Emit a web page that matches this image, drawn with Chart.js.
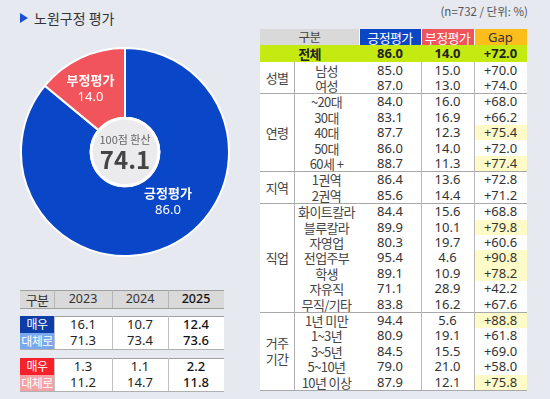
<!DOCTYPE html>
<html><head><meta charset="utf-8">
<script src="https://cdn.jsdelivr.net/npm/chart.js@4.4.1/dist/chart.umd.min.js"></script>
<style>
html,body{margin:0;padding:0;}
body{width:550px;height:399px;background:#e6e9f0;position:relative;overflow:hidden;font-family:"Noto Sans","Noto Sans CJK KR",sans-serif;color:#333;}
.abs{position:absolute;box-sizing:border-box;}
.c{position:absolute;box-sizing:border-box;display:flex;align-items:center;justify-content:center;white-space:nowrap;font-size:12.5px;line-height:1;}
.k{font-family:"Noto Sans CJK KR",sans-serif;font-size:12.5px;letter-spacing:-0.6px;}
#title{left:20px;top:8px;font-size:14px;color:#333;display:flex;align-items:center;font-family:"Noto Sans CJK KR";}
#title .tri{width:0;height:0;border-top:5px solid transparent;border-bottom:5px solid transparent;border-left:8px solid #1a4fd0;margin-right:6px;}
#note{right:22px;top:3px;font-size:11.5px;color:#555;font-family:"Noto Sans CJK KR";}
</style></head>
<body>
<div id="title" class="abs"><span class="tri"></span>노원구정 평가</div>
<div id="note" class="abs">(n=732 / 단위: %)</div>
<div class="abs" style="left:20px;top:47px;width:210px;height:210px;"><canvas id="donut" width="210" height="210"></canvas></div>
<div id="rt"></div>
<div id="lt"></div>
<script>
// ---------- data ----------
const donutLabels = ['긍정평가','부정평가'];
const donutValues = [86.0, 14.0];
const donutColors = ['#0a46c8','#f2545b'];
const centerTitle = '100점 환산';
const centerValue = '74.1';

const headerCols = ['구분','긍정평가','부정평가','Gap'];
const totalRow = ['전체','86.0','14.0','+72.0'];
const groupNames = ['성별','연령','지역','직업','거주\n기간'];
const groupSizes = [2,5,2,7,5];
const subLabels = ['남성','여성','~20대','30대','40대','50대','60세 +','1권역','2권역','화이트칼라','블루칼라','자영업','전업주부','학생','자유직','무직/기타','1년 미만','1~3년','3~5년','5~10년','10년 이상'];
const positiveVals = [85.0,87.0,84.0,83.1,87.7,86.0,88.7,86.4,85.6,84.4,89.9,80.3,95.4,89.1,71.1,83.8,94.4,80.9,84.5,79.0,87.9];
const negativeVals = [15.0,13.0,16.0,16.9,12.3,14.0,11.3,13.6,14.4,15.6,10.1,19.7,4.6,10.9,28.9,16.2,5.6,19.1,15.5,21.0,12.1];
const gapVals = [70.0,74.0,68.0,66.2,75.4,72.0,77.4,72.8,71.2,68.8,79.8,60.6,90.8,78.2,42.2,67.6,88.8,61.8,69.0,58.0,75.8];
const gapHighlight = [0,0,0,0,1,0,1,0,0,0,1,0,1,1,0,0,1,0,0,0,1];

const years = ['2023','2024','2025'];
const posVeryVals = [16.1,10.7,12.4];
const posSomewhatVals = [71.3,73.4,73.6];
const negVeryVals = [1.3,1.1,2.2];
const negSomewhatVals = [11.2,14.7,11.8];
const rowLabels = ['매우','대체로'];

// ---------- donut ----------
const labelSpots = [{ang:139, r:0.63}, {ang:331.7, r:0.70}];
const donutPlugin = {
  id:'donutDecor',
  afterDatasetsDraw(chart){
    const ctx = chart.ctx;
    const arc = chart.getDatasetMeta(0).data[0];
    const cx = arc.x, cy = arc.y, ir = arc.innerRadius, or = arc.outerRadius;
    ctx.save();
    ctx.beginPath(); ctx.arc(cx, cy, ir - 0.5, 0, Math.PI*2);
    ctx.fillStyle = '#ebebee'; ctx.fill();
    ctx.lineWidth = 3; ctx.strokeStyle = '#ffffff'; ctx.stroke();
    ctx.textAlign = 'center'; ctx.textBaseline = 'middle';
    ctx.fillStyle = '#666';
    ctx.font = '11px "Noto Sans CJK KR"';
    ctx.fillText(centerTitle, cx, cy - 12);
    ctx.fillStyle = '#444';
    ctx.font = 'bold 24px "Noto Sans CJK KR"';
    ctx.fillText(centerValue, cx, cy + 8);
    donutLabels.forEach((lab, i) => {
      const s = labelSpots[i];
      const a = s.ang * Math.PI / 180;
      const px = cx + Math.sin(a) * or * s.r;
      const py = cy - Math.cos(a) * or * s.r;
      ctx.fillStyle = '#ffffff';
      ctx.font = 'bold 13px "Noto Sans CJK KR"';
      ctx.fillText(lab, px, py - 8);
      ctx.font = '13px "Noto Sans"';
      ctx.fillText(donutValues[i].toFixed(1), px, py + 9);
    });
    ctx.restore();
  }
};
new Chart(document.getElementById('donut'), {
  type:'doughnut',
  data:{labels:donutLabels, datasets:[{data:donutValues, backgroundColor:donutColors, borderColor:'#ffffff', borderWidth:2}]},
  options:{responsive:false, animation:false, cutout:'33%', rotation:0,
    layout:{padding:0},
    plugins:{legend:{display:false}, tooltip:{enabled:false}}},
  plugins:[donutPlugin]
});

// ---------- helpers ----------
function cell(parent, x, y, w, h, text, style, cls){
  const d = document.createElement('div');
  d.className = 'c' + (cls ? ' ' + cls : '');
  d.style.left = x+'px'; d.style.top = y+'px'; d.style.width = w+'px'; d.style.height = h+'px';
  if (style) Object.assign(d.style, style);
  d.innerText = text;
  parent.appendChild(d);
  return d;
}
function line(parent, x, y, w, h, color){
  const d = document.createElement('div');
  d.className = 'abs';
  d.style.left = x+'px'; d.style.top = y+'px'; d.style.width = w+'px'; d.style.height = h+'px';
  d.style.background = color;
  parent.appendChild(d);
}

// ---------- right table ----------
const rt = document.getElementById('rt');
const T = {x:260, y:29, w:267};
const colX = [260, 294, 359, 421, 474, 527];
line(rt, T.x, T.y, T.w, 361, '#ffffff');
cell(rt, colX[0], 29, colX[2]-colX[0], 16, headerCols[0], {background:'#d9d9d9', color:'#444'}, 'k');
cell(rt, colX[2], 29, colX[3]-colX[2], 16, headerCols[1], {background:'#0b47c4', color:'#fff', fontSize:'13px'}, 'k');
cell(rt, colX[3], 29, colX[4]-colX[3], 16, headerCols[2], {background:'#f0545b', color:'#fff', fontSize:'13px'}, 'k');
cell(rt, colX[4], 29, colX[5]-colX[4], 16, headerCols[3], {background:'#fdbd1a', color:'#333', fontSize:'13px'});
line(rt, colX[2]-0.5, 29, 1, 16, '#ffffff');
line(rt, colX[3]-0.5, 29, 1, 16, '#ffffff');
line(rt, colX[4]-0.5, 29, 1, 16, '#ffffff');
line(rt, colX[0], 45, T.w, 17, '#c4ea12');
const tb = {fontWeight:'bold', color:'#222', fontSize:'13px'};
cell(rt, colX[0], 45, colX[2]-colX[0], 17, totalRow[0], tb, 'k');
cell(rt, colX[2], 45, colX[3]-colX[2], 17, totalRow[1], tb);
cell(rt, colX[3], 45, colX[4]-colX[3], 17, totalRow[2], tb);
cell(rt, colX[4], 45, colX[5]-colX[4], 17, totalRow[3], tb);
const rowH = 15.4;
let y = 62, idx = 0;
const groupTops = [];
groupNames.forEach((g, gi) => {
  const n = groupSizes[gi];
  const gh = n*rowH + 1;
  groupTops.push(y);
  cell(rt, colX[0], y, colX[1]-colX[0], gh, g, {whiteSpace:'pre', textAlign:'center', lineHeight:'16px', color:'#444', fontSize:'13px'}, 'k');
  for (let r=0; r<n; r++){
    const ry = y + 0.5 + r*rowH;
    const i = idx + r;
    cell(rt, colX[1], ry, colX[2]-colX[1], rowH, subLabels[i], {color:'#444', fontSize:'13px'}, 'k');
    cell(rt, colX[2], ry, colX[3]-colX[2], rowH, positiveVals[i].toFixed(1), {color:'#333', fontSize:'13px'});
    cell(rt, colX[3], ry, colX[4]-colX[3], rowH, negativeVals[i].toFixed(1), {color:'#333', fontSize:'13px'});
    const gs = {color:'#333', fontSize:'13px'};
    if (gapHighlight[i]) gs.background = '#fffbc8';
    cell(rt, colX[4], ry, colX[5]-colX[4], rowH, '+' + gapVals[i].toFixed(1), gs);
  }
  idx += n;
  y += gh;
});
const tableBottom = y;
groupTops.forEach((gy, gi) => { if (gi > 0) line(rt, colX[0], gy-0.5, T.w, 1, '#a8a8a8'); });
line(rt, colX[0], tableBottom-0.5, T.w, 1, '#a8a8a8');
line(rt, colX[1]-0.5, 62, 1, tableBottom-62, '#b0b0b0');
line(rt, colX[3]-0.5, 62, 1, tableBottom-62, '#b8b8b8');
line(rt, colX[4]-0.5, 62, 1, tableBottom-62, '#b8b8b8');

// ---------- left bottom table ----------
const lt = document.getElementById('lt');
const lx = [20, 54, 112, 168, 224];
line(lt, lx[0], 290, lx[4]-lx[0], 18, '#d9d9d9');
line(lt, lx[0], 289.5, lx[4]-lx[0], 1, '#a0a0a0');
line(lt, lx[0], 307.5, lx[4]-lx[0], 1, '#a0a0a0');
cell(lt, lx[0], 290, lx[1]-lx[0], 18, '구분', {color:'#333', fontSize:'13px'}, 'k');
years.forEach((yr, j) => {
  cell(lt, lx[j+1], 290, lx[j+2]-lx[j+1], 18, yr, {color: j===2 ? '#111' : '#333', fontSize:'12.5px', fontWeight: j===2 ? '500' : 'normal'});
  line(lt, lx[j+1]-0.5, 290, 1, 18, '#b5b5b5');
});
function block(top, vals1, vals2, c1, c2){
  line(lt, lx[0], top, lx[4]-lx[0], 33, '#ffffff');
  line(lt, lx[0], top-0.5, lx[4]-lx[0], 1, '#a0a0a0');
  line(lt, lx[0], top+33-0.5, lx[4]-lx[0], 1, '#b0b0b0');
  cell(lt, lx[0], top, lx[1]-lx[0], 16.5, rowLabels[0], {background:c1, color:'#fff', fontSize:'12px'}, 'k');
  cell(lt, lx[0], top+16.5, lx[1]-lx[0], 16.5, rowLabels[1], {background:c2, color:'#fff', fontSize:'12px'}, 'k');
  [vals1, vals2].forEach((vals, r) => {
    vals.forEach((v, j) => {
      cell(lt, lx[j+1], top + r*16.5, lx[j+2]-lx[j+1], 16.5, v.toFixed(1), {color: j===2 ? '#111' : '#222', fontSize:'13px', fontWeight: j===2 ? '500' : 'normal'});
    });
  });
  for (let j=1;j<4;j++) line(lt, lx[j]-0.5, top, 1, 33, '#c0c0c0');
}
block(316, posVeryVals, posSomewhatVals, '#0d3ea8', '#7aa8ee');
block(358, negVeryVals, negSomewhatVals, '#f5222b', '#f5a2a6');
</script>
</body></html>
